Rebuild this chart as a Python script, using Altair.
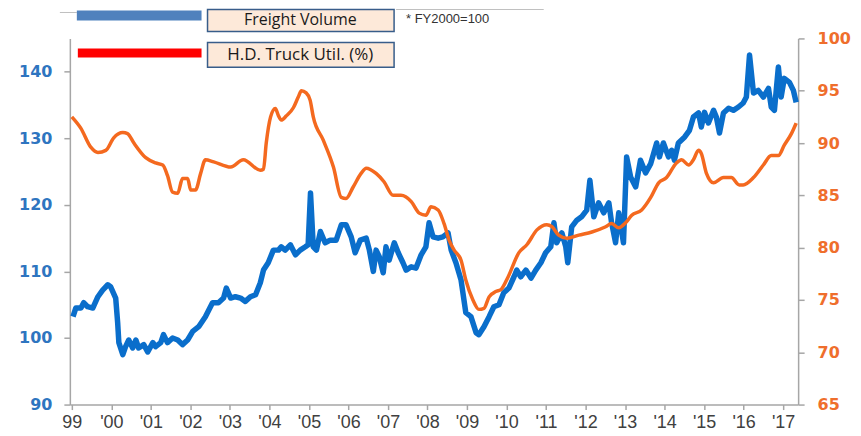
import altair as alt
import pandas as pd

# ---------------- data ----------------
fv_year = [1999.03, 1999.10, 1999.23, 1999.30, 1999.40, 1999.53, 1999.66, 1999.78, 1999.91, 1999.98,
           2000.11, 2000.16, 2000.19, 2000.29, 2000.36, 2000.44, 2000.54, 2000.62, 2000.69, 2000.82,
           2000.92, 2001.05, 2001.12, 2001.25, 2001.32, 2001.42, 2001.55, 2001.68, 2001.80, 2001.93,
           2002.06, 2002.21, 2002.38, 2002.56, 2002.71, 2002.84, 2002.91, 2003.02, 2003.14, 2003.27,
           2003.39, 2003.52, 2003.65, 2003.77, 2003.85, 2003.97, 2004.10, 2004.23, 2004.30, 2004.40,
           2004.53, 2004.66, 2004.78, 2004.91, 2004.98, 2005.04, 2005.11, 2005.19, 2005.29, 2005.41,
           2005.54, 2005.69, 2005.82, 2005.94, 2006.07, 2006.17, 2006.30, 2006.45, 2006.53, 2006.63,
           2006.70, 2006.78, 2006.88, 2006.95, 2007.03, 2007.16, 2007.26, 2007.38, 2007.46, 2007.59,
           2007.71, 2007.84, 2007.96, 2008.04, 2008.14, 2008.27, 2008.39, 2008.52, 2008.60, 2008.72,
           2008.85, 2008.97, 2009.10, 2009.23, 2009.30, 2009.43, 2009.56, 2009.68, 2009.81, 2009.93,
           2010.06, 2010.19, 2010.26, 2010.36, 2010.49, 2010.62, 2010.74, 2010.87, 2010.99, 2011.12,
           2011.20, 2011.27, 2011.40, 2011.50, 2011.55, 2011.65, 2011.78, 2011.90, 2012.03, 2012.11,
           2012.21, 2012.33, 2012.46, 2012.59, 2012.66, 2012.76, 2012.84, 2012.96, 2013.04, 2013.14,
           2013.27, 2013.39, 2013.52, 2013.65, 2013.80, 2013.87, 2013.97, 2014.10, 2014.18, 2014.25,
           2014.35, 2014.51, 2014.63, 2014.73, 2014.86, 2014.93, 2015.01, 2015.11, 2015.24, 2015.31,
           2015.39, 2015.49, 2015.62, 2015.74, 2015.87, 2015.99, 2016.07, 2016.15, 2016.25, 2016.37,
           2016.50, 2016.63, 2016.70, 2016.78, 2016.88, 2016.95, 2017.03, 2017.16, 2017.26, 2017.33]
fv_value = [103.2, 104.5, 104.5, 105.3, 104.7, 104.5, 106.2, 107.2, 108.0, 107.7,
            106.0, 102.3, 99.3, 97.5, 98.7, 99.7, 98.5, 99.7, 98.5, 99.0,
            97.9, 99.3, 98.7, 99.3, 100.5, 99.3, 100.0, 99.7, 99.0, 99.7,
            101.0, 101.7, 103.2, 105.3, 105.3, 106.0, 107.5, 106.0, 106.2, 106.0,
            105.5, 106.2, 106.5, 108.3, 110.2, 111.3, 113.2, 113.2, 113.7, 113.2,
            114.0, 112.5, 113.2, 113.7, 114.0, 121.8, 113.7, 113.2, 116.0, 114.3,
            114.7, 114.7, 117.0, 117.0, 115.2, 112.8, 114.7, 115.0, 113.2, 110.0,
            113.2, 112.2, 109.8, 113.7, 111.7, 114.3, 112.8, 111.3, 110.2, 110.7,
            110.5, 112.5, 113.7, 117.3, 115.2, 115.0, 115.2, 115.8, 113.2, 111.3,
            108.7, 103.8, 103.2, 100.8, 100.5, 101.7, 103.2, 104.7, 105.0, 106.8,
            107.5, 109.2, 110.2, 109.2, 110.2, 109.0, 110.2, 111.3, 112.8, 113.7,
            117.3, 114.3, 115.8, 113.7, 111.3, 116.7, 117.7, 118.2, 119.2, 123.7,
            118.2, 120.3, 118.8, 120.3, 117.3, 114.3, 118.8, 114.3, 127.2, 124.2,
            122.7, 126.7, 124.8, 126.2, 129.3, 127.2, 129.3, 127.2, 128.2, 126.7,
            129.3, 130.2, 131.2, 133.2, 133.8, 131.7, 133.9, 132.3, 134.2, 133.2,
            130.8, 133.8, 134.5, 134.2, 134.7, 135.3, 136.2, 142.5, 136.8, 137.2,
            136.2, 137.5, 134.7, 134.2, 140.7, 136.2, 139.0, 138.4, 137.2, 135.4]

util_year = [1999.00, 1999.23, 1999.48, 1999.66, 1999.86, 2000.06, 2000.29, 2000.41, 2000.57, 2000.87,
             2001.12, 2001.30, 2001.42, 2001.55, 2001.68, 2001.80, 2001.93, 2002.01, 2002.13, 2002.26,
             2002.38, 2002.59, 2003.02, 2003.34, 2003.77, 2003.85, 2003.92, 2004.03, 2004.15, 2004.23,
             2004.30, 2004.43, 2004.61, 2004.73, 2004.81, 2004.93, 2005.03, 2005.11, 2005.36, 2005.62,
             2005.82, 2005.94, 2006.12, 2006.32, 2006.45, 2006.70, 2006.90, 2007.13, 2007.33, 2007.59,
             2007.79, 2007.96, 2008.09, 2008.27, 2008.42, 2008.55, 2008.67, 2008.85, 2008.97, 2009.15,
             2009.30, 2009.43, 2009.56, 2009.73, 2009.86, 2010.04, 2010.31, 2010.52, 2010.77, 2011.02,
             2011.15, 2011.32, 2011.53, 2011.83, 2012.16, 2012.51, 2012.66, 2012.84, 2013.02, 2013.17,
             2013.42, 2013.65, 2013.85, 2014.05, 2014.30, 2014.43, 2014.61, 2014.73, 2014.86, 2014.93,
             2015.06, 2015.24, 2015.49, 2015.69, 2015.89, 2015.99, 2016.25, 2016.50, 2016.70, 2016.88,
             2017.03, 2017.21, 2017.33]
util_value = [92.5, 91.4, 89.6, 89.1, 89.3, 90.5, 91.0, 90.9, 90.0, 88.6,
              88.1, 87.9, 86.9, 85.3, 85.2, 86.6, 86.6, 85.5, 85.5, 87.1,
              88.4, 88.2, 87.7, 88.4, 87.4, 87.5, 90.0, 92.5, 93.3, 92.6,
              92.2, 92.6, 93.4, 94.4, 95.0, 94.8, 94.1, 92.5, 90.3, 87.7,
              84.8, 84.7, 85.8, 87.1, 87.6, 87.1, 86.3, 85.0, 85.0, 84.4,
              83.3, 83.1, 83.9, 83.6, 82.3, 80.7, 79.8, 78.8, 76.9, 75.0,
              74.1, 74.2, 75.3, 75.8, 76.0, 77.2, 79.5, 80.3, 81.7, 82.2,
              82.0, 81.2, 80.9, 81.2, 81.5, 82.0, 82.3, 81.9, 82.4, 83.1,
              83.6, 84.8, 86.2, 86.7, 88.1, 88.4, 87.9, 88.4, 89.3, 89.0,
              87.1, 86.2, 86.7, 86.7, 86.0, 86.0, 86.7, 87.9, 88.8, 88.8,
              89.8, 90.9, 91.9]

x_ticks = list(range(1999, 2018))
left_ticks = [90, 100, 110, 120, 130, 140]
right_ticks = [65, 70, 75, 80, 85, 90, 95, 100]

series_labels = ["Freight Volume", "H.D. Truck Util. (%)"]
note_text = "* FY2000=100"

BLUE = "#0a6ecb"
ORANGE = "#f4691f"
AXIS_GRAY = "#a6a6a6"

W, H = 730, 367

fv = pd.DataFrame({"year": fv_year, "value": fv_value})
ut = pd.DataFrame({"year": util_year, "value": util_value})
one = pd.DataFrame({"k": [0]})

xscale = alt.Scale(domain=[1998.95, 2017.38], nice=False, zero=False)
xaxis = alt.Axis(
    values=x_ticks,
    labelExpr="datum.value == 1999 ? '99' : \"'\" + slice(toString(datum.value - 1900), 1)",
    title=None, grid=False, domainColor=AXIS_GRAY, tickColor=AXIS_GRAY,
    domainWidth=1.5, tickWidth=1.5, tickSize=5, labelFont="Liberation Sans",
    labelFontSize=18, labelColor="#404040", labelPadding=4, labelFlush=False,
    labelOverlap=False,
)

fv_line = alt.Chart(fv).mark_line(color=BLUE, strokeWidth=5.5, strokeJoin="round").encode(
    x=alt.X("year:Q", scale=xscale, axis=xaxis),
    y=alt.Y("value:Q", scale=alt.Scale(domain=[90, 145], nice=False, zero=False),
            axis=alt.Axis(orient="left", values=left_ticks, title=None, grid=False,
                          domainColor=AXIS_GRAY, tickColor=AXIS_GRAY, domainWidth=1.5,
                          tickWidth=1.5, tickSize=6, labelFont="DejaVu Sans",
                          labelFontWeight="bold", labelFontSize=16, labelColor="#2e75c0",
                          labelPadding=12)),
)

ut_line = alt.Chart(ut).mark_line(color=ORANGE, strokeWidth=3.5, interpolate="monotone").encode(
    x=alt.X("year:Q", scale=xscale, axis=xaxis),
    y=alt.Y("value:Q", scale=alt.Scale(domain=[65, 100], nice=False, zero=False),
            axis=alt.Axis(orient="right", values=right_ticks, title=None, grid=False,
                          domainColor=AXIS_GRAY, tickColor=AXIS_GRAY, domainWidth=1.5,
                          tickWidth=1.5, tickSize=6, labelFont="DejaVu Sans",
                          labelFontWeight="bold", labelFontSize=16, labelColor="#ef6e2c",
                          labelPadding=13)),
)

# ---------------- legend-like boxes at top ----------------
bar1 = alt.Chart(one).mark_rect(color="#4f81bd").encode(
    x=alt.value(7), x2=alt.value(132), y=alt.value(-28), y2=alt.value(-18))
bar2 = alt.Chart(one).mark_rect(color="#ff0000").encode(
    x=alt.value(8), x2=alt.value(132), y=alt.value(10), y2=alt.value(19))
box1 = alt.Chart(one).mark_rect(fill="#fde9d9", stroke="#385d8a", strokeWidth=1.5).encode(
    x=alt.value(138), x2=alt.value(325), y=alt.value(-29), y2=alt.value(-7))
box2 = alt.Chart(one).mark_rect(fill="#fde9d9", stroke="#385d8a", strokeWidth=1.5).encode(
    x=alt.value(138), x2=alt.value(325), y=alt.value(4), y2=alt.value(29))
txt1 = alt.Chart(one).mark_text(text=series_labels[0], font="Open Sans", fontSize=16,
                                color="#1a1a1a", align="center", baseline="middle").encode(
    x=alt.value(231), y=alt.value(-18))
txt2 = alt.Chart(one).mark_text(text=series_labels[1], font="Open Sans", fontSize=17,
                                color="#1a1a1a", align="center", baseline="middle").encode(
    x=alt.value(231), y=alt.value(17))
note = alt.Chart(one).mark_text(text=note_text, font="Liberation Sans", fontSize=13,
                                color="#333333", align="left", baseline="middle").encode(
    x=alt.value(337), y=alt.value(-19))
rule1 = alt.Chart(one).mark_rule(color="#c0c0c0", strokeWidth=1).encode(
    x=alt.value(-10), x2=alt.value(7), y=alt.value(-26))
rule2 = alt.Chart(one).mark_rule(color="#c0c0c0", strokeWidth=1).encode(
    x=alt.value(327), x2=alt.value(475), y=alt.value(-29))

chart = alt.layer(
    fv_line, ut_line, rule1, rule2, bar1, bar2, box1, box2, txt1, txt2, note
).resolve_scale(y="independent").properties(
    width=W, height=H,
    autosize=alt.AutoSizeParams(type="none"),
    padding={"left": 62, "top": 30, "right": 55, "bottom": 30},
).configure_view(stroke=None)

chart.save("out.html", embed_options={"renderer": "svg", "actions": False})
